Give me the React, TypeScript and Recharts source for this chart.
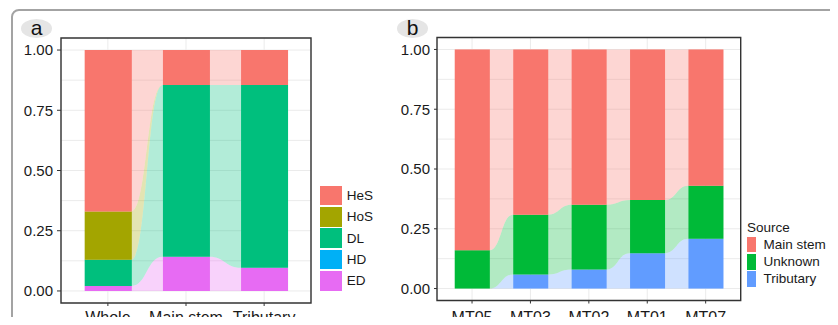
import React from "react";
import { Area, Bar, CartesianGrid, ComposedChart, ReferenceArea, XAxis, YAxis } from "recharts";

// panel a: sediment composition by reach
const aCats = ["Whole", "Main stem", "Tributary"];
const edVals = [0.021, 0.142, 0.096];
const hdVals = [0, 0, 0];
const dlVals = [0.109, 0.713, 0.759];
const hosVals = [0.2, 0, 0];
const hesVals = [0.67, 0.145, 0.145];

// panel b: source by site
const bCats = ["MT05", "MT03", "MT02", "MT01", "MT07"];
const tribVals = [0, 0.059, 0.08, 0.148, 0.208];
const unknownVals = [0.16, 0.25, 0.27, 0.222, 0.222];
const mainVals = [0.84, 0.691, 0.65, 0.63, 0.57];

const yTicks = [0, 0.25, 0.5, 0.75, 1];
const yGrid = [0, 0.125, 0.25, 0.375, 0.5, 0.625, 0.75, 0.875, 1];

type Series = { name: string; color: string; values: number[] };

// bottom -> top stacking order
const aSeries: Series[] = [
  { name: "ED", color: "#E76BF3", values: edVals },
  { name: "HD", color: "#00B0F6", values: hdVals },
  { name: "DL", color: "#00BF7D", values: dlVals },
  { name: "HoS", color: "#A3A500", values: hosVals },
  { name: "HeS", color: "#F8766D", values: hesVals },
];

const bSeries: Series[] = [
  { name: "Tributary", color: "#619CFF", values: tribVals },
  { name: "Unknown", color: "#00BA38", values: unknownVals },
  { name: "Main stem", color: "#F8766D", values: mainVals },
];

const HALF = 0.3;
const font = '"Liberation Sans", Arial, sans-serif';

function buildRows(cats: string[], series: Series[]) {
  return cats.map((c, i) => {
    const row: Record<string, number | string> = { x: i, cat: c };
    series.forEach((s) => (row[s.name] = s.values[i]));
    return row;
  });
}

// alluvium ribbons: each stratum keeps its [low, high] across the bar, then bends to the next bar
function buildFlows(cats: string[], series: Series[]) {
  return series.map((s, k) => {
    const pts: { x: number; r: [number, number] }[] = [];
    cats.forEach((_, i) => {
      const lo = series.slice(0, k).reduce((acc, t) => acc + t.values[i], 0);
      const hi = lo + s.values[i];
      pts.push({ x: i - HALF, r: [lo, hi] });
      pts.push({ x: i + HALF, r: [lo, hi] });
    });
    return { ...s, data: pts };
  });
}

type PanelProps = {
  cats: string[];
  series: Series[];
  width: number;
  margin: { top: number; right: number; left: number; bottom: number };
  yWidth: number;
  xHeight: number;
  barSize: number;
  yTickSize: number;
  xTickMargin: number;
};

function Axes({ cats, yWidth, xHeight, yTickSize, xTickMargin, show }: PanelProps & { show: boolean }) {
  const xMax = cats.length - 0.4;
  return [
    <XAxis
      key="x"
      type="number"
      dataKey="x"
      domain={[-0.6, xMax]}
      ticks={cats.map((_, i) => i)}
      interval={0}
      allowDataOverflow
      tickFormatter={(v) => cats[v] ?? ""}
      height={xHeight}
      axisLine={false}
      tickLine={show ? { stroke: "#333" } : false}
      tickSize={3}
      tickMargin={xTickMargin}
      tick={show ? { fill: "#1a1a1a", fontSize: 16, fontFamily: font } : false}
    />,
    <YAxis
      key="y"
      type="number"
      domain={[-0.05, 1.05]}
      ticks={yTicks}
      allowDataOverflow
      tickFormatter={(v) => Number(v).toFixed(2)}
      width={yWidth}
      axisLine={false}
      tickLine={show ? { stroke: "#333" } : false}
      tickSize={yTickSize}
      tickMargin={4}
      tick={show ? { fill: "#1a1a1a", fontSize: 15, fontFamily: font } : false}
    />,
  ];
}

function Panel(props: PanelProps) {
  const { cats, series, width, margin, barSize } = props;
  const rows = buildRows(cats, series);
  const flows = buildFlows(cats, series);
  const xMax = cats.length - 0.4;
  return (
    <div style={{ position: "relative", width, height: 325 }}>
      <div style={{ position: "absolute", left: 0, top: 0 }}>
        <ComposedChart width={width} height={325} data={rows} margin={margin}>
          <CartesianGrid stroke="#EBEBEB" horizontalValues={yGrid} />
          {Axes({ ...props, show: true })}
          {flows.map((f) => (
            <Area
              key={"flow-" + f.name}
              data={f.data}
              dataKey="r"
              type="bumpX"
              stroke="none"
              fill={f.color}
              fillOpacity={0.3}
              dot={false}
              activeDot={false}
              isAnimationActive={false}
            />
          ))}
        </ComposedChart>
      </div>
      <div style={{ position: "absolute", left: 0, top: 0 }}>
        <ComposedChart width={width} height={325} data={rows} margin={margin}>
          {Axes({ ...props, show: false })}
          {series.map((s) => (
            <Bar key={s.name} dataKey={s.name} stackId="s" fill={s.color} barSize={barSize} isAnimationActive={false} />
          ))}
          <ReferenceArea x1={-0.6} x2={xMax} y1={-0.05} y2={1.05} fill="none" stroke="#333" strokeWidth={1.4} />
        </ComposedChart>
      </div>
    </div>
  );
}

function LegendA() {
  const items = [...aSeries].reverse();
  return (
    <div style={{ position: "absolute", left: 320, top: 185 }}>
      {items.map((s) => (
        <div key={s.name} style={{ display: "flex", alignItems: "center", height: 21.3 }}>
          <div style={{ width: 21.7, height: 19.7, background: s.color }} />
          <span style={{ marginLeft: 5, fontSize: 13.5, color: "#1a1a1a" }}>{s.name}</span>
        </div>
      ))}
    </div>
  );
}

function LegendB() {
  const items = [...bSeries].reverse();
  return (
    <div style={{ position: "absolute", left: 747, top: 219 }}>
      <div style={{ fontSize: 13.5, color: "#1a1a1a", height: 17, lineHeight: "17px" }}>Source</div>
      {items.map((s) => (
        <div key={s.name} style={{ display: "flex", alignItems: "center", height: 17.2 }}>
          <div style={{ width: 9, height: 15.7, background: s.color }} />
          <span style={{ marginLeft: 7.5, fontSize: 13.5, color: "#1a1a1a" }}>{s.name}</span>
        </div>
      ))}
    </div>
  );
}

function Tag({ label, left }: { label: string; left: number }) {
  return (
    <div
      style={{
        position: "absolute",
        left,
        top: 19,
        width: 31,
        height: 19,
        borderRadius: "50%",
        background: "#e5e5e5",
        fontSize: 21,
        lineHeight: "17px",
        textAlign: "center",
        color: "#111",
      }}
    >
      {label}
    </div>
  );
}

export default function App() {
  return (
    <div
      style={{
        position: "relative",
        width: 838,
        height: 325,
        margin: -8,
        overflow: "hidden",
        background: "#fff",
        fontFamily: font,
      }}
    >
      <div
        style={{
          position: "absolute",
          left: 11,
          top: 9,
          width: 822,
          height: 340,
          border: "2px solid #a3a3a3",
          borderRadius: 8,
        }}
      />
      <div style={{ position: "absolute", left: 0, top: 0 }}>
        <Panel
          cats={aCats}
          series={aSeries}
          width={420}
          margin={{ top: 38, right: 109, left: 0, bottom: 0 }}
          yWidth={61}
          xHeight={22}
          barSize={47}
          yTickSize={4}
          xTickMargin={6}
        />
      </div>
      <div style={{ position: "absolute", left: 380, top: 0 }}>
        <Panel
          cats={bCats}
          series={bSeries}
          width={458}
          margin={{ top: 37.5, right: 97.3, left: 0, bottom: 0 }}
          yWidth={57}
          xHeight={24.5}
          barSize={35}
          yTickSize={3}
          xTickMargin={8}
        />
      </div>
      <LegendA />
      <LegendB />
      <Tag label="a" left={21} />
      <Tag label="b" left={397} />
    </div>
  );
}
